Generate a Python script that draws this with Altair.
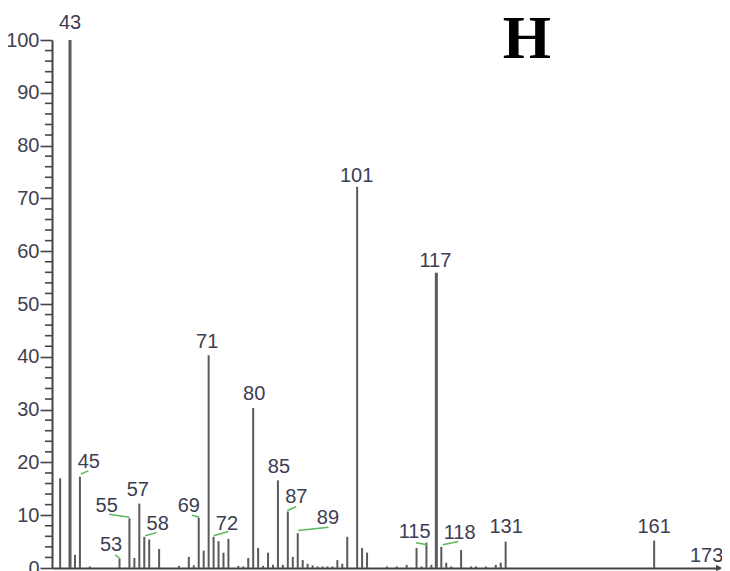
import altair as alt
import pandas as pd

# Peak data (m/z, relative intensity %)
mz = [41, 43, 44, 45, 47, 53, 55, 56, 57, 58, 59, 61, 65, 67, 68, 69, 70, 71, 72, 73,
      74, 75, 77, 78, 79, 80, 81, 82, 83, 84, 85, 86, 87, 88, 89, 90, 91, 92, 93, 94,
      95, 96, 97, 98, 99, 101, 102, 103, 107, 109, 111, 113, 114, 115, 116, 117, 118,
      119, 120, 122, 124, 125, 127, 129, 130, 131, 161]
intensity = [17.0, 100, 2.5, 17.3, 0.3, 1.8, 9.4, 1.9, 12.2, 5.9, 5.4, 3.6, 0.4, 2.1, 0.5,
             9.5, 3.3, 40.3, 5.9, 5.1, 2.9, 5.5, 0.4, 0.3, 1.9, 30.3, 3.8, 0.4, 2.9, 0.6,
             16.6, 0.6, 10.7, 2.1, 6.6, 1.5, 0.8, 0.5, 0.3, 0.3, 0.3, 0.3, 1.5, 0.8, 5.9,
             72.2, 3.8, 2.9, 0.3, 0.3, 0.6, 3.8, 0.3, 4.8, 0.6, 55.9, 4.0, 1.0, 0.3, 3.4,
             0.3, 0.3, 0.3, 0.6, 1.0, 5.0, 5.2]

# Peak labels: text, anchor m/z, baseline intensity
label_text = ["43", "45", "53", "55", "57", "58", "69", "71", "72", "80", "85", "87",
              "89", "101", "115", "117", "118", "131", "161", "173"]
label_x = [43, 46.8, 51.3, 50.4, 56.7, 60.7, 67.0, 70.7, 74.7, 80.2, 85.2, 88.7,
           95.1, 100.9, 112.6, 116.8, 121.7, 131.1, 161.0, 171.6]
label_y = [102.0, 18.9, 3.3, 10.7, 13.6, 7.2, 10.7, 41.6, 7.2, 31.8, 17.9, 12.3,
           8.3, 73.1, 5.6, 57.0, 5.4, 6.6, 6.6, 1.2]

# Green leader lines (m/z, intensity start -> end)
lead_x1 = [45.2, 52.1, 50.9, 58.2, 67.6, 72.0, 86.9, 89.1, 112.9, 118.3]
lead_y1 = [17.8, 2.5, 10.2, 6.1, 10.0, 6.1, 10.9, 7.1, 4.8, 4.4]
lead_x2 = [46.7, 53.1, 55.0, 60.5, 69.1, 75.0, 88.7, 95.2, 115.2, 121.4]
lead_y2 = [18.4, 1.8, 9.6, 6.7, 9.6, 6.9, 11.6, 7.7, 4.4, 5.0]

# Panel letter
panel_text = ["H"]
panel_x = [135.3]
panel_y = [96.6]

# y-axis ticks
major_ticks = list(range(0, 101, 10))
minor_ticks = [v for v in range(0, 101, 2) if v % 10 != 0]

peaks = pd.DataFrame({"mz": mz, "intensity": intensity})
labels = pd.DataFrame({"text": label_text, "x": label_x, "y": label_y})
leaders = pd.DataFrame({"x1": lead_x1, "y1": lead_y1, "x2": lead_x2, "y2": lead_y2})
panel = pd.DataFrame({"text": panel_text, "x": panel_x, "y": panel_y})
minor_df = pd.DataFrame({"v": minor_ticks})
arrow = pd.DataFrame({"x": [174.1], "y": [0]})

XMIN, XMAX = 39.36, 174.3
xs = alt.Scale(domain=[XMIN, XMAX], nice=False, zero=False)
ys = alt.Scale(domain=[0, 100], nice=False)

sans = "Liberation Sans, Arial, sans-serif"

bars = alt.Chart(peaks).mark_rule(color="#5a5a5a").encode(
    x=alt.X("mz:Q", scale=xs,
            axis=alt.Axis(title=None, labels=False, ticks=False, domainColor="#444",
                          domainWidth=2, grid=False)),
    y=alt.Y("intensity:Q", scale=ys,
            axis=alt.Axis(title=None, values=major_ticks, grid=False, labelOverlap=False,
                          tickSize=12, tickColor="#444", tickWidth=1.6,
                          domainColor="#444", domainWidth=2,
                          labelFont=sans, labelFontSize=20, labelColor="#3f3f4f",
                          labelPadding=1)),
    y2=alt.datum(0),
    strokeWidth=alt.condition("datum.mz === 43 || datum.mz === 117", alt.value(3), alt.value(2)),
)

minor = alt.Chart(minor_df).mark_tick(orient="horizontal", size=7, thickness=1.6,
                                      color="#444", xOffset=-3.5, opacity=1).encode(
    x=alt.X("xv:Q", scale=xs), y=alt.Y("v:Q", scale=ys)
).transform_calculate(xv=str(XMIN))

lead = alt.Chart(leaders).mark_rule(color="#5cb85c", strokeWidth=1.5).encode(
    x=alt.X("x1:Q", scale=xs), y=alt.Y("y1:Q", scale=ys),
    x2="x2:Q", y2="y2:Q",
)

text = alt.Chart(labels).mark_text(
    font=sans, fontSize=20, color="#3d3d52", baseline="alphabetic", align="center"
).encode(
    x=alt.X("x:Q", scale=xs), y=alt.Y("y:Q", scale=ys), text="text:N"
)

ptext = alt.Chart(panel).mark_text(
    font="Liberation Serif, Times New Roman, serif", fontSize=62, fontWeight="bold",
    color="#000", baseline="alphabetic", align="center"
).encode(
    x=alt.X("x:Q", scale=xs), y=alt.Y("y:Q", scale=ys), text="text:N"
)

arr = alt.Chart(arrow).mark_point(shape="triangle-right", filled=True, color="#444",
                                  size=45, opacity=1).encode(
    x=alt.X("x:Q", scale=xs), y=alt.Y("y:Q", scale=ys)
)

chart = alt.layer(bars, minor, lead, text, ptext, arr).properties(
    width=668, height=528,
    padding={"left": 44, "top": 32, "right": 2, "bottom": 10},
    autosize=alt.AutoSizeParams(type="none"),
    background="white",
).configure_view(stroke=None)

chart.save("out.html", embed_options={"renderer": "svg", "actions": False})
